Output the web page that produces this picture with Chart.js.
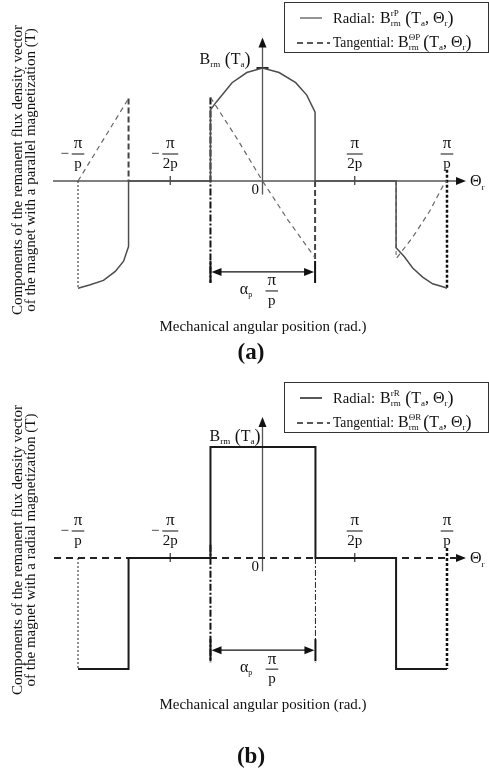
<!DOCTYPE html>
<html>
<head>
<meta charset="utf-8">
<script src="https://cdn.jsdelivr.net/npm/chart.js@4.4.0/dist/chart.umd.min.js"></script>
<style>
    body { margin: 0; background: #fff; width: 489px; height: 773px; position: relative; overflow: hidden; }
    canvas { position: absolute; left: 0; }
    #graficoA { top: 0; }
    #graficoB { top: 380px; }
</style>
</head>
<body>
<canvas id="graficoA" width="489" height="380"></canvas>
<canvas id="graficoB" width="489" height="393"></canvas>
<script>
// Posiciones angulares en unidades de pi/p, valores en unidades de Brm(Ta)

// (a) Magnetización paralela - componente radial
const thetaRadA = [-1, -0.938, -0.862, -0.798, -0.753, -0.726, -0.726, -0.282, -0.282, -0.25, -0.165, -0.085, 0, 0.09, 0.18, 0.24, 0.285, 0.285, 0.724, 0.724, 0.769, 0.814, 0.868, 0.922, 0.986, 1];
const radA = [-0.95, -0.92, -0.88, -0.80, -0.71, -0.58, 0, 0, 0.63, 0.70, 0.87, 0.96, 1.0, 0.96, 0.87, 0.76, 0.61, 0, 0, -0.59, -0.67, -0.77, -0.85, -0.91, -0.94, -0.95];

// (a) Magnetización paralela - componente tangencial
const thetaTanA = [-1, -0.726, -0.5, -0.282, -0.14, 0, 0.14, 0.285, 0.5, 0.728, 0.813, 0.905, 0.986, 1];
const tanA = [0, 0.73, null, 0.74, 0.38, 0, -0.35, -0.68, null, -0.68, -0.50, -0.27, -0.02, 0];

// (a) Líneas guía verticales
const guiaThetaA = [-1, -0.726, -0.282, 0.285, 0.724, 1];
const guiaDesdeA = [0, 0.73, 0.74, 0, 0, 0.1];
const guiaHastaA = [-0.95, 0, -0.90, -0.70, -0.68, -0.95];

// (b) Magnetización radial
const thetaRadB = [-1, -0.726, -0.726, -0.282, -0.282, 0.287, 0.287, 0.724, 0.724, 1];
const radB = [-1, -1, 0, 0, 1, 1, 0, 0, -1, -1];
const thetaTanB = [-1.13, 1.06];
const tanB = [0, 0];

// (b) Líneas guía verticales
const guiaThetaB = [-1, -0.282, 0.287, 1];
const guiaDesdeB = [0, 0.12, 0, 0.09];
const guiaHastaB = [-1, -0.94, -0.94, -1];

// Marcas del eje horizontal
const ticksTheta = [-1, -0.5, 0.5, 1];
const ticksNum = ['π', 'π', 'π', 'π'];
const ticksDen = ['p', '2p', '2p', 'p'];
const ticksNeg = [true, true, false, false];

// Ancho del polo (alpha_p * pi/p)
const anchoPoloA = [-0.282, 0.285];
const anchoPoloB = [-0.282, 0.287];
const nivelCotaA = -0.805;
const nivelCotaB = -0.83;

// Textos
const leyendaTextos = ['Radial:', 'Tangential:'];
const supA = ['rP', 'ΘP'];
const supB = ['rR', 'ΘR'];
const tituloYA = ['Components of the remanent flux density vector', 'of the magnet with a parallel magnetization (T)'];
const tituloYB = ['Components of the remanent flux density vector', 'of the magnet with a radial magnetization (T)'];
const tituloX = 'Mechanical angular position (rad.)';

const SERIF = '"Liberation Serif", "Times New Roman", serif';
function fuente(px, negrita){
    return (negrita ? 'bold ' : '') + px + 'px ' + SERIF;
}

// Texto con subíndices/superíndices: [texto, tamaño, dy, avanza]
function textoRico(ctx, x, y, partes){
    let cx = x;
    partes.forEach(([t, px, dy, avanza]) => {
        ctx.font = fuente(px);
        ctx.fillText(t, cx, y + dy);
        if(avanza !== false) cx += ctx.measureText(t).width;
    });
    return cx;
}

function fraccion(ctx, cx, y, num, den, negativo){
    ctx.textAlign = 'center';
    ctx.textBaseline = 'middle';
    ctx.font = fuente(15);
    const w = Math.max(ctx.measureText(num).width + 4, ctx.measureText(den).width) + 1;
    ctx.fillText(den, cx, y + 10);
    if(negativo) ctx.fillText('−', cx - w / 2 - 7, y);
    ctx.font = fuente(17);
    ctx.fillText(num, cx, y - 10);
    ctx.fillRect(cx - w / 2, y - 0.5, w, 1);
    ctx.textAlign = 'left';
    ctx.textBaseline = 'alphabetic';
}

function triangulo(ctx, x, y, ang, largo, ancho){
    ctx.save();
    ctx.translate(x, y);
    ctx.rotate(ang);
    ctx.beginPath();
    ctx.moveTo(0, 0);
    ctx.lineTo(-largo, -ancho);
    ctx.lineTo(-largo, ancho);
    ctx.closePath();
    ctx.fill();
    ctx.restore();
}

function linea(ctx, x1, y1, x2, y2){
    ctx.beginPath();
    ctx.moveTo(x1, y1);
    ctx.lineTo(x2, y2);
    ctx.stroke();
}

// Plugin que dibuja ejes, leyenda y anotaciones
function pluginDiagrama(d){
    return {
        id: 'diagrama',
        beforeDatasetsDraw(chart){
            const { ctx, chartArea, scales: { x, y } } = chart;
            const x0 = x.getPixelForValue(0), y0 = y.getPixelForValue(0);
            ctx.save();
            ctx.strokeStyle = '#555';
            ctx.fillStyle = '#111';
            ctx.lineWidth = 1.3;
            if(d.ejeX) linea(ctx, chartArea.left, y0, chartArea.right - 6, y0);
            triangulo(ctx, chartArea.right, y0, 0, 10, 4);
            linea(ctx, x0, y.getPixelForValue(-0.12), x0, chartArea.top + 6);
            triangulo(ctx, x0, chartArea.top, -Math.PI / 2, 10, 4);
            ctx.strokeStyle = '#444';
            ticksTheta.forEach(t => {
                if(Math.abs(t) < 1) linea(ctx, x.getPixelForValue(t), y0 - 5, x.getPixelForValue(t), y0 + 4);
            });
            if(d.marcaPico){
                ctx.lineWidth = 2;
                ctx.strokeStyle = '#222';
                const yp = y.getPixelForValue(1);
                linea(ctx, x0 - 6, yp, x0 + 6, yp);
            }
            ctx.restore();
        },
        afterDraw(chart){
            const { ctx, scales: { x, y } } = chart;
            const x0 = x.getPixelForValue(0), y0 = y.getPixelForValue(0);
            ctx.save();
            ctx.fillStyle = '#111';
            ctx.strokeStyle = '#111';

            // Leyenda
            ctx.lineWidth = 1;
            ctx.strokeStyle = '#333';
            ctx.strokeRect(284.5, 2.5, 204, 50);
            ctx.strokeStyle = d.colorRadial;
            ctx.lineWidth = 1.4;
            linea(ctx, 300, 18, 322, 18);
            ctx.strokeStyle = '#222';
            ctx.lineWidth = 1.6;
            ctx.setLineDash([6, 4]);
            linea(ctx, 297, 43, 330, 43);
            ctx.setLineDash([]);
            ctx.font = fuente(15);
            ctx.fillText(leyendaTextos[0], 333, 23, 42);
            ctx.fillText(leyendaTextos[1], 333, 47, 61);
            [[380, 23], [398, 47]].forEach(([lx, ly], i) => {
                textoRico(ctx, lx, ly, [['B', 16, 0], [d.sup[i], 9, -7, false], ['rm', 9, 3], [' (', 18, 1], ['T', 16, 0], ['a', 9, 3], [', Θ', 16, 0], ['r', 9, 3], [')', 18, 1]]);
            });

            // Etiqueta Brm(Ta)
            textoRico(ctx, x0 - d.dxB, y0 - 117, [['B', 16, 0], ['rm', 9, 3], [' (', 18, 1], ['T', 16, 0], ['a', 9, 3], [')', 18, 1]]);

            // Etiquetas del eje horizontal
            ticksTheta.forEach((t, i) => {
                fraccion(ctx, x.getPixelForValue(t), y0 - 27, ticksNum[i], ticksDen[i], ticksNeg[i]);
            });
            textoRico(ctx, 470, y0 + 5, [['Θ', 16, 0], ['r', 9, 4]]);
            ctx.font = fuente(15);
            ctx.fillText('0', x0 - 11, y0 + 13);

            // Cota alpha_p * pi/p
            const xa = x.getPixelForValue(d.polo[0]), xb = x.getPixelForValue(d.polo[1]);
            const yc = y.getPixelForValue(d.cota);
            ctx.strokeStyle = '#111';
            ctx.lineWidth = 2;
            linea(ctx, xa, yc - 11, xa, yc + 11);
            linea(ctx, xb, yc - 11, xb, yc + 11);
            ctx.lineWidth = 1.2;
            linea(ctx, xa + 8, yc, xb - 8, yc);
            triangulo(ctx, xa + 1, yc, Math.PI, 10, 4);
            triangulo(ctx, xb - 1, yc, 0, 10, 4);
            const xm = (xa + xb) / 2;
            textoRico(ctx, xm - 23, yc + 22, [['α', 16, 0], ['p', 8, 3]]);
            fraccion(ctx, xm + 9, yc + 19, 'π', 'p', false);

            // Título del eje vertical
            ctx.save();
            ctx.translate(0, 170);
            ctx.rotate(-Math.PI / 2);
            ctx.font = fuente(15);
            ctx.textAlign = 'center';
            ctx.textBaseline = 'middle';
            ctx.fillText(d.tituloY[0], 0, 18, 292);
            ctx.fillText(d.tituloY[1], 0, 31, 286);
            ctx.restore();

            // Título del eje horizontal y rótulo
            ctx.textAlign = 'center';
            ctx.textBaseline = 'middle';
            ctx.font = fuente(15);
            ctx.fillText(tituloX, 263, d.yTituloX, 207);
            ctx.font = fuente(23, true);
            ctx.fillText(d.rotulo, 251, d.yRotulo);
            ctx.restore();
        }
    };
}

// Estilos de las líneas guía
const GUIA = {
    puntos: { borderColor: '#222', borderWidth: 1, borderDash: [2, 2] },
    puntosGrueso: { borderColor: '#111', borderWidth: 2.5, borderDash: [3, 2] },
    trazos: { borderColor: '#444', borderWidth: 2, borderDash: [6, 3] },
    trazosFino: { borderColor: '#777', borderWidth: 1.2, borderDash: [4, 3] },
    rayaPunto: { borderColor: '#111', borderWidth: 2, borderDash: [7, 2, 2, 2] },
    rayaPuntoFino: { borderColor: '#222', borderWidth: 1, borderDash: [6, 2, 2, 2] }
};

function serie(thetas, valores, estilo){
    return Object.assign({
        data: thetas.map((t, i) => ({ x: t, y: valores[i] })),
        pointRadius: 0,
        fill: false,
        tension: 0,
        spanGaps: false
    }, estilo);
}

function guias(thetas, desde, hasta, estilos){
    return thetas.map((t, i) => serie([t, t], [desde[i], hasta[i]], GUIA[estilos[i]]));
}

// Función para crear cada diagrama
function crearDiagrama(canvasId, datasets, d){
    const ctx = document.getElementById(canvasId).getContext('2d');
    new Chart(ctx, {
        type: 'line',
        data: { datasets: datasets },
        options: {
            responsive: false,
            animation: false,
            devicePixelRatio: 1,
            layout: { padding: d.padding },
            plugins: { legend: { display: false }, tooltip: { enabled: false } },
            scales: {
                x: { type: 'linear', min: -1.1355, max: 1.103, display: false },
                y: { type: 'linear', min: -1.27, max: 1.27, display: false }
            }
        },
        plugins: [pluginDiagrama(d)]
    });
}

// (a) Magnetización paralela
crearDiagrama('graficoA', [
    serie(thetaRadA, radA, { borderColor: '#4d4d4d', borderWidth: 1.5 }),
    serie(thetaTanA, tanA, { borderColor: '#666', borderWidth: 1.2, borderDash: [5, 4] }),
    ...guias(guiaThetaA, guiaDesdeA, guiaHastaA, ['puntos', 'trazos', 'rayaPunto', 'trazos', 'trazosFino', 'puntosGrueso'])
], {
    padding: { left: 53, right: 23, top: 37.5, bottom: 55.5 },
    ejeX: true, marcaPico: true, colorRadial: '#666', sup: supA, dxB: 63,
    polo: anchoPoloA, cota: nivelCotaA, tituloY: tituloYA,
    yTituloX: 327, rotulo: '(a)', yRotulo: 353
});

// (b) Magnetización radial
crearDiagrama('graficoB', [
    serie(thetaRadB, radB, { borderColor: '#1a1a1a', borderWidth: 2 }),
    serie(thetaTanB, tanB, { borderColor: '#222', borderWidth: 2, borderDash: [7, 5] }),
    ...guias(guiaThetaB, guiaDesdeB, guiaHastaB, ['puntos', 'rayaPunto', 'rayaPuntoFino', 'puntosGrueso'])
], {
    padding: { left: 53, right: 23, top: 37, bottom: 74 },
    ejeX: false, marcaPico: false, colorRadial: '#111', sup: supB, dxB: 53,
    polo: anchoPoloB, cota: nivelCotaB, tituloY: tituloYB,
    yTituloX: 325, rotulo: '(b)', yRotulo: 377
});
</script>
</body>
</html>
